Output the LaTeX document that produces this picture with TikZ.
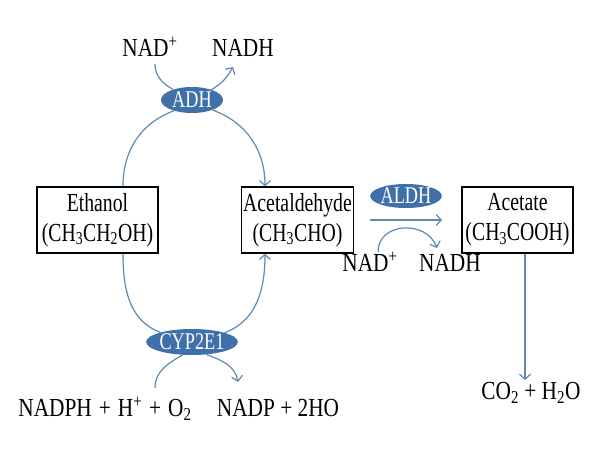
\documentclass[tikz,border=0pt]{standalone}
\usepackage{fontspec}
\setmainfont[FakeStretch=0.76]{Liberation Serif}
\newfontfamily\lblfam[FakeStretch=0.82]{Liberation Serif}
\usetikzlibrary{arrows.meta,shapes.geometric}
\definecolor{lc}{HTML}{5E8AB4}
\definecolor{enz}{HTML}{3F70AA}
\newcommand\bigf{\fontsize{26}{30}\selectfont}
\newcommand\lblf{\lblfam\fontsize{26}{30}\selectfont}
\newcommand\enzf{\fontsize{24}{26}\selectfont}
\newcommand\pl{\hspace{7pt}+\hspace{7pt}}
\begin{document}
\begin{tikzpicture}[x=1pt,y=1pt,
  ln/.style={draw=lc, line width=1.2pt},
  arr/.style={ln, -{Straight Barb[length=5pt,width=11pt]}},
  box/.style={draw=black, line width=1.3pt, align=center, inner sep=2pt, minimum height=66pt, font=\bigf},
  enzyme/.style={ellipse, fill=enz, text=white, inner sep=0pt, font=\enzf},
  lbl/.style={font=\lblf, inner sep=0pt}]
\useasboundingbox (0,0) rectangle (600,450);
% boxes
\node[box, minimum width=121pt] (eth) at (97.5,230) {Ethanol\\(CH\textsubscript{3}CH\textsubscript{2}OH)};
\node[box, minimum width=109pt] (ald) at (297.5,230) {Acetaldehyde\\(CH\textsubscript{3}CHO)};
\node[box, minimum width=111pt] (ace) at (517.5,230) {Acetate\\(CH\textsubscript{3}COOH)};
% enzymes
\node[enzyme, minimum width=62pt, minimum height=26pt] (adh) at (192,350) {ADH};
\node[enzyme, minimum width=90pt, minimum height=26pt] (cyp) at (192,108) {CYP2E1};
\node[enzyme, minimum width=68pt, minimum height=24pt] (aldh) at (406,254) {ALDH};
% labels
\node[lbl, anchor=base] (nad1) at (150,393) {NAD\textsuperscript{+}};
\node[lbl, anchor=base] (nadh1) at (243,393) {NADH};
\node[lbl, anchor=base] (nad2) at (370,178) {NAD\textsuperscript{+}};
\node[lbl, anchor=base] (nadh2) at (450,178) {NADH};
\node[lbl, anchor=base] (nadph) at (105,33) {NADPH\pl H\textsuperscript{+}\pl O\textsubscript{2}};
\node[lbl, anchor=base] (nadp) at (278,33) {NADP + 2HO};
\node[lbl, anchor=base] (co2) at (531,50) {CO\textsubscript{2} + H\textsubscript{2}O};
% free ends
\coordinate (s1) at (155,386);
\coordinate (e1) at (233,383);
\coordinate (s2) at (155,62);
\coordinate (e2) at (238,68);
\coordinate (s3) at (378,198);
\coordinate (e3) at (437,202);
\coordinate (a1) at (370,230);
\coordinate (a2) at (442,230);
\coordinate (e4) at (525,70);
% main loop
\draw[ln] (adh.211) to[out=200,in=90] ([xshift=25.5pt]eth.north);
\draw[arr] (adh.334) to[out=-20,in=90] ([xshift=-32.5pt]ald.north);
\draw[ln] ([xshift=25.5pt]eth.south) to[out=-90,in=160] (cyp.163);
\draw[arr] (cyp.16) to[out=20,in=270] ([xshift=-32.5pt]ald.south);
% cofactors
\draw[ln] (s1) to[out=-90,in=150] (adh.151);
\draw[arr] (adh.28) to[out=30,in=240] (e1);
\draw[ln] (s2) to[out=90,in=210] (cyp.234);
\draw[arr] (cyp.319) to[out=-20,in=100] (e2);
% ALDH step
\draw[arr] (a1) -- (a2);
\draw[arr] (s3) to[out=90,in=110,looseness=1.3] (e3);
% acetate
\draw[arr] ([xshift=7.5pt]ace.south) -- (e4);
\end{tikzpicture}
\end{document}
